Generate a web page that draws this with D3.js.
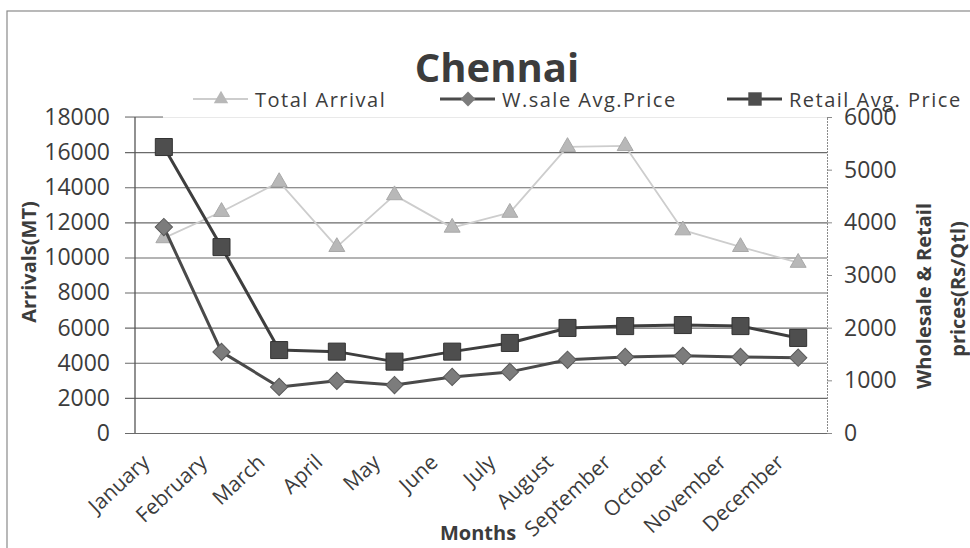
<!DOCTYPE html>
<html>
<head>
    <title>Chennai</title>
    <script src="https://d3js.org/d3.v7.min.js"></script>
    <style>
        body { margin: 0; background: #fff; }
        text { font-family: "Open Sans", sans-serif; fill: #3c3c3c; }
    </style>
</head>
<body>
    <svg width="970" height="548" id="mainSvg"></svg>
    <script>
        const months = ["January", "February", "March", "April", "May", "June",
            "July", "August", "September", "October", "November", "December"];
        const totalArrival = [11100, 12600, 14300, 10600, 13550, 11700, 12550, 16300, 16350, 11550, 10600, 9700];
        const wholesalePrice = [3910, 1540, 875, 990, 910, 1065, 1160, 1390, 1445, 1465, 1445, 1430];
        const retailPrice = [5430, 3530, 1575, 1545, 1355, 1545, 1710, 1995, 2030, 2050, 2030, 1805];
        const leftTicks = [0, 2000, 4000, 6000, 8000, 10000, 12000, 14000, 16000, 18000];
        const rightTicks = [0, 1000, 2000, 3000, 4000, 5000, 6000];

        const svg = d3.select("#mainSvg");
        const plot = { left: 135, right: 827, top: 117, bottom: 433 };

        // outer frame of the chart area
        svg.append("rect")
            .attr("x", 7).attr("y", 11).attr("width", 990).attr("height", 560)
            .attr("fill", "none").attr("stroke", "#8a8a8a").attr("stroke-width", 1.2);

        const x = d3.scalePoint().domain(months)
            .range([plot.left, plot.right]).padding(0.5);
        const yLeft = d3.scaleLinear().domain([0, 18000]).range([plot.bottom, plot.top]);
        const yRight = d3.scaleLinear().domain([0, 6000]).range([plot.bottom, plot.top]);

        // gridlines + left axis
        const leftAxis = d3.axisLeft(yLeft).tickValues(leftTicks).tickFormat(d3.format("d"))
            .tickSize(plot.right - plot.left + 10).tickPadding(14);
        const gl = svg.append("g")
            .attr("transform", `translate(${plot.right},0)`)
            .call(leftAxis);
        gl.select(".domain").remove();
        gl.selectAll(".tick line")
            .attr("stroke", "#6a6a6a").attr("stroke-width", 1.1)
            .attr("stroke-opacity", d => d === 18000 ? 0.15 : 1);
        gl.selectAll(".tick text")
            .attr("x", -(plot.right - plot.left + 25))
            .style("font-size", "23px").attr("fill", "#3c3c3c");
        svg.append("line")
            .attr("x1", 125).attr("x2", 163).attr("y1", yLeft(18000)).attr("y2", yLeft(18000))
            .attr("stroke", "#6a6a6a").attr("stroke-width", 1.1);
        svg.append("line")
            .attr("x1", plot.left).attr("x2", plot.left)
            .attr("y1", plot.top).attr("y2", plot.bottom)
            .attr("stroke", "#555").attr("stroke-width", 1.3);

        // right axis
        const gr = svg.append("g")
            .attr("transform", `translate(${plot.right},0)`)
            .call(d3.axisRight(yRight).tickValues(rightTicks).tickFormat(d3.format("d"))
                .tickSize(5).tickPadding(12));
        gr.select(".domain").attr("stroke", "#8a8a8a").attr("stroke-dasharray", "2,1");
        gr.selectAll(".tick line").attr("stroke", "#8a8a8a");
        gr.selectAll(".tick text").style("font-size", "23px").attr("fill", "#3c3c3c");

        // x labels
        svg.append("g").selectAll("text").data(months).join("text")
            .attr("text-anchor", "end")
            .attr("transform", d => `translate(${x(d) - 13},${plot.bottom + 31}) rotate(-43)`)
            .style("font-size", "21px")
            .text(d => d);

        // series
        const drawLine = (values, scale, color, width) => {
            svg.append("path")
                .datum(values)
                .attr("fill", "none").attr("stroke", color).attr("stroke-width", width)
                .attr("stroke-linejoin", "round")
                .attr("d", d3.line().x((d, i) => x(months[i])).y(d => scale(d)));
        };

        drawLine(totalArrival, yLeft, "#cdcdcd", 1.8);
        svg.append("g").selectAll("path").data(totalArrival).join("path")
            .attr("d", d3.symbol(d3.symbolTriangle, 110))
            .attr("transform", (d, i) => `translate(${x(months[i])},${yLeft(d)})`)
            .attr("fill", "#b8b8b8").attr("stroke", "#a8a8a8");

        drawLine(wholesalePrice, yRight, "#4a4a4a", 3);
        svg.append("g").selectAll("path").data(wholesalePrice).join("path")
            .attr("d", d3.symbol(d3.symbolSquare, 150))
            .attr("transform", (d, i) => `translate(${x(months[i])},${yRight(d)}) rotate(45)`)
            .attr("fill", "#7c7c7c").attr("stroke", "#5a5a5a");

        drawLine(retailPrice, yRight, "#3e3e3e", 3);
        svg.append("g").selectAll("path").data(retailPrice).join("path")
            .attr("d", d3.symbol(d3.symbolSquare, 290))
            .attr("transform", (d, i) => `translate(${x(months[i])},${yRight(d)})`)
            .attr("fill", "#4e4e4e").attr("stroke", "#333");

        // title
        svg.append("text")
            .attr("x", 497).attr("y", 82).attr("text-anchor", "middle")
            .style("font-size", "40px").style("font-weight", "bold")
            .attr("fill", "#3a3a3a")
            .text("Chennai");

        // legend
        const legend = [
            { name: "Total Arrival", x: 193, color: "#cdcdcd", w: 1.8, sym: d3.symbolTriangle, size: 90, rot: 0, fill: "#b8b8b8" },
            { name: "W.sale Avg.Price", x: 440, color: "#4a4a4a", w: 3, sym: d3.symbolSquare, size: 110, rot: 45, fill: "#7c7c7c" },
            { name: "Retail Avg. Price", x: 727, color: "#3e3e3e", w: 3, sym: d3.symbolSquare, size: 180, rot: 0, fill: "#4e4e4e" }
        ];
        const lg = svg.append("g").selectAll("g").data(legend).join("g")
            .attr("transform", d => `translate(${d.x},99)`);
        lg.append("line").attr("x1", 0).attr("x2", 55)
            .attr("stroke", d => d.color).attr("stroke-width", d => d.w);
        lg.append("path")
            .attr("d", d => d3.symbol(d.sym, d.size)())
            .attr("transform", d => `translate(28,0) rotate(${d.rot})`)
            .attr("fill", d => d.fill);
        lg.append("text").attr("x", 62).attr("y", 8)
            .style("font-size", "20px").style("letter-spacing", "1.5px")
            .text(d => d.name);

        // axis titles
        svg.append("text")
            .attr("transform", "translate(36,262) rotate(-90)")
            .attr("text-anchor", "middle")
            .style("font-size", "20px").style("font-weight", "bold")
            .text("Arrivals(MT)");
        svg.append("text")
            .attr("transform", "translate(931,296) rotate(-90)")
            .attr("text-anchor", "middle")
            .style("font-size", "20px").style("font-weight", "bold")
            .text("Wholesale & Retail");
        svg.append("text")
            .attr("transform", "translate(965,289) rotate(-90)")
            .attr("text-anchor", "middle")
            .style("font-size", "20px").style("font-weight", "bold")
            .text("prices(Rs/Qtl)");
        svg.append("text")
            .attr("x", 478).attr("y", 540).attr("text-anchor", "middle")
            .style("font-size", "20px").style("font-weight", "bold")
            .text("Months");
    </script>
</body>
</html>
